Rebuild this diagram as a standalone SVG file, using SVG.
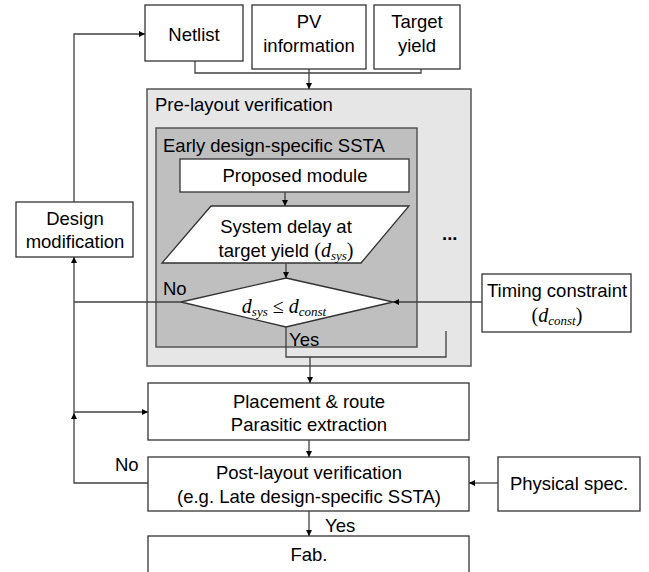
<svg xmlns="http://www.w3.org/2000/svg" width="649" height="572" viewBox="0 0 649 572">
  <defs>
    <marker id="arrow" viewBox="0 0 10 10" refX="10" refY="5" markerWidth="6" markerHeight="6" markerUnits="userSpaceOnUse" orient="auto">
      <path d="M0,0 L10,5 L0,10 z" fill="#000"/>
    </marker>
    <style>
      .box { fill: #fff; stroke: #333; stroke-width: 1.3; }
      .outer { fill: #e6e6e6; stroke: #555; stroke-width: 1.5; }
      .inner { fill: #bfbfbf; stroke: #555; stroke-width: 1.5; }
      .lbl { font-family: "Liberation Sans", Arial, sans-serif; font-size: 18.5px; fill: #000; }
      .mid { text-anchor: middle; }
      .math { font-family: "Liberation Serif", "Times New Roman", serif; font-style: italic; font-size: 20px; }
      .up { font-family: "Liberation Serif", "Times New Roman", serif; font-size: 20px; }
      .sub { font-family: "Liberation Serif", "Times New Roman", serif; font-style: italic; font-size: 13px; }
      .wire { fill: none; stroke: #404040; stroke-width: 1.3; }
      .wirea { fill: none; stroke: #404040; stroke-width: 1.3; marker-end: url(#arrow); }
    </style>
  </defs>

  <!-- inputs -->
  <g id="netlist">
    <rect class="box" x="145" y="5" width="98" height="56"/>
    <text class="lbl mid" x="194" y="41">Netlist</text>
  </g>
  <g id="pv-info">
    <rect class="box" x="252" y="5" width="114" height="64"/>
    <text class="lbl mid" x="309" y="28">PV</text>
    <text class="lbl mid" x="309" y="52">information</text>
  </g>
  <g id="target-yield">
    <rect class="box" x="374" y="5" width="86" height="64"/>
    <text class="lbl mid" x="417" y="28">Target</text>
    <text class="lbl mid" x="417" y="52">yield</text>
  </g>

  <!-- pre-layout verification container -->
  <g id="pre-layout">
    <rect class="outer" x="147" y="89" width="324" height="277"/>
    <text class="lbl" x="155" y="111">Pre-layout verification</text>
    <text class="lbl" x="442" y="240" font-weight="bold" font-size="14">...</text>
  </g>
  <g id="early-ssta">
    <rect class="inner" x="156" y="128" width="261" height="219"/>
    <text class="lbl" x="163" y="152">Early design-specific SSTA</text>
  </g>
  <g id="proposed-module">
    <rect class="box" x="180" y="159" width="229" height="33"/>
    <text class="lbl mid" x="295" y="182">Proposed module</text>
  </g>
  <g id="system-delay">
    <polygon class="box" points="211,206 409,206 361,263 162,263"/>
    <text class="lbl mid" x="286" y="233">System delay at</text>
    <text class="lbl mid" x="286" y="257">target yield <tspan class="up">(</tspan><tspan class="math">d</tspan><tspan class="sub" dy="3">sys</tspan><tspan class="up" dy="-3">)</tspan></text>
  </g>
  <g id="check">
    <polygon class="box" points="286,278 393,302 286,327 181,302"/>
    <text class="lbl mid" x="284" y="313"><tspan class="math">d</tspan><tspan class="sub" dy="3">sys</tspan><tspan class="up" dy="-3"> ≤ </tspan><tspan class="math">d</tspan><tspan class="sub" dy="3">const</tspan></text>
  </g>

  <g id="timing-constraint">
    <rect class="box" x="482" y="274" width="149" height="58"/>
    <text class="lbl mid" x="557" y="297">Timing constraint</text>
    <text class="lbl mid" x="557" y="322"><tspan class="up">(</tspan><tspan class="math">d</tspan><tspan class="sub" dy="3">const</tspan><tspan class="up" dy="-3">)</tspan></text>
  </g>

  <g id="design-modification">
    <rect class="box" x="16" y="202" width="117" height="55"/>
    <text class="lbl mid" x="75" y="225">Design</text>
    <text class="lbl mid" x="75" y="248">modification</text>
  </g>

  <!-- layout flow -->
  <g id="placement">
    <rect class="box" x="148" y="383" width="321" height="57"/>
    <text class="lbl mid" x="309" y="408">Placement &amp; route</text>
    <text class="lbl mid" x="309" y="431">Parasitic extraction</text>
  </g>
  <g id="post-layout">
    <rect class="box" x="148" y="457" width="321" height="54"/>
    <text class="lbl mid" x="309" y="479">Post-layout verification</text>
    <text class="lbl mid" x="309" y="503">(e.g. Late design-specific SSTA)</text>
  </g>
  <g id="physical-spec">
    <rect class="box" x="498" y="457" width="142" height="54"/>
    <text class="lbl mid" x="569" y="490">Physical spec.</text>
  </g>
  <g id="fab">
    <rect class="box" x="148" y="536" width="321" height="50"/>
    <text class="lbl mid" x="309" y="561">Fab.</text>
  </g>

  <!-- connectors -->
  <g id="connectors">
    <path class="wire" d="M195,61 V73 H421 V69"/>
    <path class="wirea" d="M309,69 V89"/>
    <path class="wirea" d="M285,192 V206"/>
    <path class="wirea" d="M286,263 V278"/>
    <path class="wire" d="M181,302 H74"/>
    <path class="wirea" d="M482,302 H393"/>
    <path class="wire" d="M286,327 V357 H446 V331"/>
    <path class="wirea" d="M310,357 V383"/>
    <path class="wirea" d="M309,440 V457"/>
    <path class="wirea" d="M309,511 V536"/>
    <path class="wirea" d="M498,483 H469"/>
    <path class="wirea" d="M148,483 H74 V413"/>
    <path class="wirea" d="M74,413 V257"/>
    <path class="wirea" d="M74,412 H148"/>
    <path class="wirea" d="M74,202 V34 H145"/>
  </g>

  <!-- branch labels -->
  <g id="labels">
    <text class="lbl" x="163" y="295">No</text>
    <text class="lbl" x="289" y="346">Yes</text>
    <text class="lbl" x="115" y="471">No</text>
    <text class="lbl" x="325" y="532">Yes</text>
  </g>
</svg>
